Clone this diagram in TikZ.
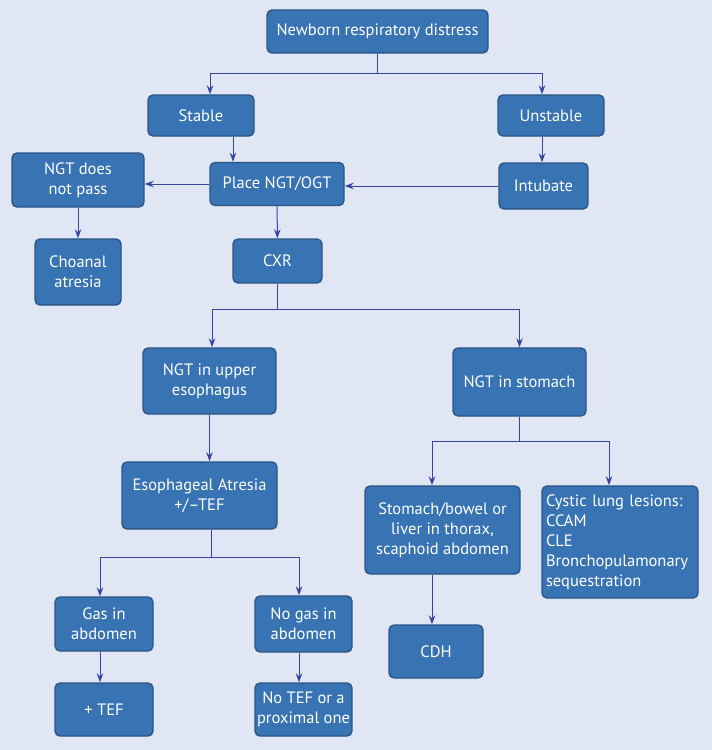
\documentclass[tikz,border=0pt]{standalone}
\usepackage{fontspec}
\setmainfont{PT Sans}
\usetikzlibrary{arrows.meta}

\definecolor{bgcol}{HTML}{E1E6F5}
\definecolor{boxcol}{HTML}{3873B3}
\definecolor{edgecol}{HTML}{2A5585}
\definecolor{arrcol}{HTML}{3646A0}

\tikzset{
    blk/.style={draw=edgecol, fill=boxcol, line width=1.4pt, rounded corners=5pt,
        text=white, align=center, inner sep=2pt,
        font=\fontsize{16.5}{20}\selectfont},
    line/.style={draw=arrcol, line width=1pt},
    arr/.style={line, -{Stealth[length=9pt,width=6.5pt]}}
}

\begin{document}
\begin{tikzpicture}[x=1pt,y=-1pt]
    % background
    \fill [bgcol] (0,0) rectangle (712,750);

    % boxes
    \node [blk, minimum width=221pt, minimum height=43pt] (newborn)  at (377.5,31.5) {Newborn respiratory distress};
    \node [blk, minimum width=106pt, minimum height=41pt] (stable)   at (201,115.5)  {Stable};
    \node [blk, minimum width=106pt, minimum height=41pt] (unstable) at (551,115.5)  {Unstable};
    \node [blk, minimum width=132pt, minimum height=54pt] (nopass)   at (78,180)     {NGT does\\not pass};
    \node [blk, minimum width=134pt, minimum height=43pt] (place)    at (277,184)    {Place NGT/OGT};
    \node [blk, minimum width=89pt,  minimum height=46pt] (intubate) at (543.5,186)  {Intubate};
    \node [blk, minimum width=86pt,  minimum height=66pt] (choanal)  at (78,272)     {Choanal\\atresia};
    \node [blk, minimum width=89pt,  minimum height=44pt] (cxr)      at (277.5,261)  {CXR};
    \node [blk, minimum width=133pt, minimum height=66pt] (upper)    at (209.5,381)  {NGT in upper\\esophagus};
    \node [blk, minimum width=133pt, minimum height=68pt] (stomach)  at (519.5,382)  {NGT in stomach};
    \node [blk, minimum width=155pt, minimum height=67pt] (esoph)    at (199.5,495.5) {Esophageal Atresia\\+/--TEF};
    \node [blk, minimum width=155pt, minimum height=88pt] (bowel)    at (442.5,530)  {Stomach/bowel or\\liver in thorax,\\scaphoid abdomen};
    \node [blk, minimum width=156pt, minimum height=112pt, align=left, text width=148pt] (cystic) at (620,542)
        {Cystic lung lesions:\\CCAM\\CLE\\Bronchopulamonary\\sequestration};
    \node [blk, minimum width=98pt,  minimum height=54pt] (gas)      at (104,624)    {Gas in\\abdomen};
    \node [blk, minimum width=97pt,  minimum height=56pt] (nogas)    at (303.5,624)  {No gas in\\abdomen};
    \node [blk, minimum width=94pt,  minimum height=53pt] (cdh)      at (436,651.5)  {CDH};
    \node [blk, minimum width=98pt,  minimum height=53pt] (plustef)  at (104,709.5)  {+ TEF};
    \node [blk, minimum width=97pt,  minimum height=53pt] (notef)    at (303.5,709.5) {No TEF or a\\proximal one};

    % junctions
    \coordinate (j1) at (377.5,73);
    \coordinate (j2) at (277.5,309);
    \coordinate (j3) at (211,557);
    \coordinate (j4) at (519.5,441);

    % connectors
    \draw [line] (newborn) -- (j1);
    \draw [arr] (j1) -| ([xshift=9pt]stable.north);
    \draw [arr] (j1) -| ([xshift=-9pt]unstable.north);
    \draw [arr] ([xshift=32pt]stable.south) -- ([xshift=32pt]stable.south |- place.north);
    \draw [arr] ([xshift=-9pt]unstable.south) -- ([xshift=-9pt]unstable.south |- intubate.north);
    \draw [arr] (intubate.west) -- (place.east |- intubate.west);
    \draw [arr] (place.west) -- (nopass.east |- place.west);
    \draw [arr] (nopass) -- (choanal);
    \draw [arr] (place) -- (cxr);

    \draw [line] (cxr) -- (j2);
    \draw [arr] (j2) -| ([xshift=2.5pt]upper.north);
    \draw [arr] (j2) -| (stomach.north);
    \draw [arr] (upper.south) -- (upper.south |- esoph.north);

    \draw [line] (esoph.south -| j3) -- (j3);
    \draw [arr] (j3) -| ([xshift=-4pt]gas.north);
    \draw [arr] (j3) -| ([xshift=-4.5pt]nogas.north);
    \draw [arr] ([xshift=-4pt]gas.south) -- ([xshift=-4pt]plustef.north);
    \draw [arr] ([xshift=-4.5pt]nogas.south) -- ([xshift=-4.5pt]notef.north);

    \draw [line] (stomach) -- (j4);
    \draw [arr] (j4) -| ([xshift=-10.5pt]bowel.north);
    \draw [arr] (j4) -| ([xshift=-11pt]cystic.north);
    \draw [arr] ([xshift=-10.5pt]bowel.south) -- ([xshift=-10.5pt]bowel.south |- cdh.north);
\end{tikzpicture}
\end{document}
